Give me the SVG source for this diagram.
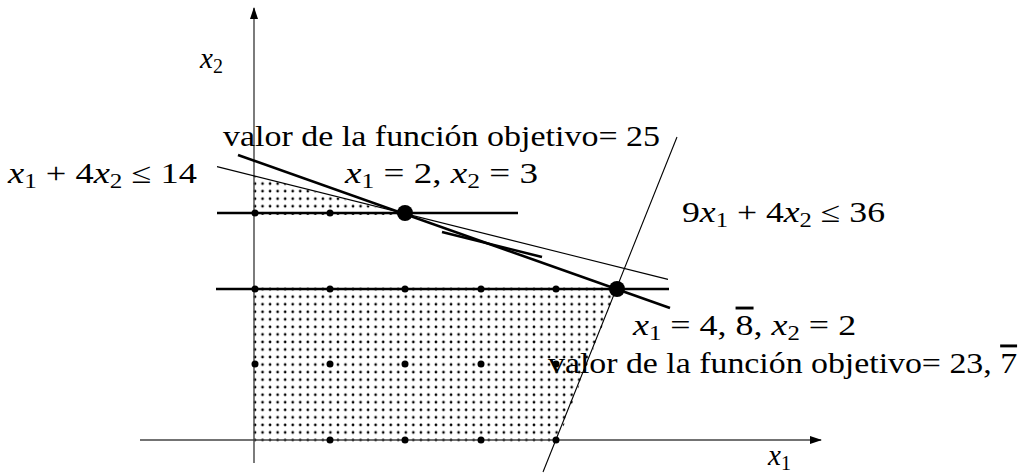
<svg xmlns="http://www.w3.org/2000/svg" width="1021" height="473" viewBox="0 0 1021 473">
  <style>
    text, tspan { font-family: "Liberation Serif", "Times New Roman", serif; }
    .t { font-size: 29px; fill: #000; }
    .i { font-style: italic; }
    .s { font-size: 20px; }
    .bar { text-decoration: overline; }
    .axis { stroke: #444; stroke-width: 1.4; fill: none; }
    .thick { stroke: #000; stroke-width: 2.6; fill: none; }
    .thin { stroke: #000; stroke-width: 1.1; fill: none; }
    .pt { fill: #000; }
  </style>
  <defs>
    <marker id="arr" viewBox="0 0 12 8" refX="11" refY="4" markerWidth="12" markerHeight="8" markerUnits="userSpaceOnUse" orient="auto">
      <path d="M0,0 L12,4 L0,8 Z" fill="#000"/>
    </marker>
    <pattern id="dots" patternUnits="userSpaceOnUse" x="251.23" y="436.23" width="7.54" height="7.54">
      <circle cx="3.77" cy="3.77" r="1.35" fill="#000"/>
    </pattern>
    <clipPath id="regB">
      <polygon points="252,443 557,443 617.5,287 252,287"/>
    </clipPath>
    <clipPath id="regA">
      <polygon points="252,215 252,175.5 405,215"/>
    </clipPath>
  </defs>

  <g id="region">
    <rect x="240" y="280" width="400" height="170" fill="url(#dots)" clip-path="url(#regB)"/>
    <rect x="240" y="170" width="200" height="50" fill="url(#dots)" clip-path="url(#regA)"/>
  </g>

  <g id="connectors">
    <line id="x1-axis" class="axis" x1="140" y1="440" x2="821" y2="440" marker-end="url(#arr)"/>
    <line id="x2-axis" class="axis" x1="254" y1="463" x2="254" y2="8" marker-end="url(#arr)"/>
    <line id="c1" class="thin" x1="217" y1="166.6" x2="668" y2="279.4"/>
    <line id="c2" class="thin" x1="543" y1="472" x2="677" y2="137"/>
    <line id="h3" class="thick" x1="217" y1="213" x2="518" y2="213"/>
    <line id="h2" class="thick" x1="216" y1="289" x2="669" y2="289"/>
    <line id="obj" class="thick" x1="238" y1="155" x2="670" y2="308"/>
    <line id="dir" class="thick" x1="442" y1="232" x2="542" y2="257"/>
  </g>

  <g id="points">
    <circle class="pt" cx="255" cy="213" r="3.5"/>
    <circle class="pt" cx="330" cy="213" r="3.5"/>
    <circle class="pt" cx="255" cy="289" r="3.5"/>
    <circle class="pt" cx="330" cy="289" r="3.5"/>
    <circle class="pt" cx="405" cy="289" r="3.5"/>
    <circle class="pt" cx="481" cy="289" r="3.5"/>
    <circle class="pt" cx="556" cy="289" r="3.5"/>
    <circle class="pt" cx="255" cy="364" r="3.5"/>
    <circle class="pt" cx="330" cy="364" r="3.5"/>
    <circle class="pt" cx="405" cy="364" r="3.5"/>
    <circle class="pt" cx="481" cy="364" r="3.5"/>
    <circle class="pt" cx="556" cy="364" r="3.5"/>
    <circle class="pt" cx="330" cy="440" r="3.5"/>
    <circle class="pt" cx="405" cy="440" r="3.5"/>
    <circle class="pt" cx="481" cy="440" r="3.5"/>
    <circle class="pt" cx="556" cy="440" r="3.5"/>
    <circle id="opt1" class="pt" cx="405" cy="213" r="8"/>
    <circle id="opt2" class="pt" cx="617" cy="289" r="8"/>
  </g>

  <g id="labels">
    <text id="lbl-x2" class="t" x="200" y="68"><tspan class="i">x</tspan><tspan class="s" dy="5">2</tspan></text>
    <text id="lbl-x1" class="t" x="768" y="465"><tspan class="i">x</tspan><tspan class="s" dy="5">1</tspan></text>
    <text id="lbl-val25" class="t" x="223" y="146" textLength="437" lengthAdjust="spacingAndGlyphs">valor de la función objetivo= 25</text>
    <text id="lbl-sol1" class="t" x="345" y="183" textLength="193" lengthAdjust="spacingAndGlyphs"><tspan class="i">x</tspan><tspan class="s" dy="5">1</tspan><tspan dy="-5"> = 2, </tspan><tspan class="i">x</tspan><tspan class="s" dy="5">2</tspan><tspan dy="-5"> = 3</tspan></text>
    <text id="lbl-c1" class="t" x="8" y="183" textLength="189" lengthAdjust="spacingAndGlyphs"><tspan class="i">x</tspan><tspan class="s" dy="5">1</tspan><tspan dy="-5"> + 4</tspan><tspan class="i">x</tspan><tspan class="s" dy="5">2</tspan><tspan dy="-5"> ≤ 14</tspan></text>
    <text id="lbl-c2" class="t" x="682" y="222" textLength="203" lengthAdjust="spacingAndGlyphs"><tspan>9</tspan><tspan class="i">x</tspan><tspan class="s" dy="5">1</tspan><tspan dy="-5"> + 4</tspan><tspan class="i">x</tspan><tspan class="s" dy="5">2</tspan><tspan dy="-5"> ≤ 36</tspan></text>
    <text id="lbl-sol2" class="t" transform="translate(633,335) scale(1.24,1)" x="0" y="0"><tspan class="i">x</tspan><tspan class="s" dy="5">1</tspan><tspan dy="-5"> = 4, </tspan><tspan class="bar">8</tspan><tspan>, </tspan><tspan class="i">x</tspan><tspan class="s" dy="5">2</tspan><tspan dy="-5"> = 2</tspan></text>
    <text id="lbl-val23" class="t" transform="translate(548,373) scale(1.167,1)" x="0" y="0">valor de la función objetivo= 23, <tspan class="bar">7</tspan></text>
  </g>
</svg>
